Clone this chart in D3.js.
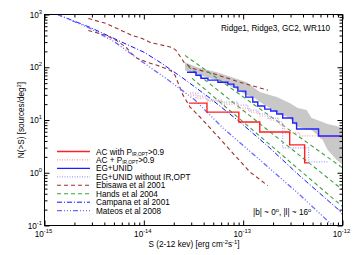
<!DOCTYPE html>
<html>
<head>
<meta charset="utf-8">
<script src="https://cdn.jsdelivr.net/npm/d3@7"></script>
<style>
body{margin:0;background:#fff;}
text{font-family:"Liberation Sans",Arial,Helvetica,sans-serif;fill:#000;}
</style>
</head>
<body>
<svg id="chart"></svg>
<script>
// tick labels (exponents of 10)
var xTickExp = [-15, -14, -13, -12];
var yTickExp = [-1, 0, 1, 2, 3];

// grey band (range of the total logN-logS)
var bandS  = [2.60e-14, 3.43e-14, 5.44e-14, 8.25e-14, 1.088e-13, 1.309e-13, 1.47e-13, 2.18e-13, 2.94e-13, 3.54e-13, 4.35e-13, 4.89e-13, 6.30e-13, 7.07e-13, 8.70e-13, 1e-12];
var bandHi = [124, 100, 80.4, 62.0, 52.1, 40.2, 33.8, 27.2, 20.9, 16.8, 15.4, 10.9, 9.17, 8.41, 7.70, 7.06];
var bandLo = [87.8, 73.8, 56.9, 40.2, 29.6, 26.0, 21.9, 14.1, 10.9, 7.37, 6.76, 6.47, 4.20, 2.72, 1.76, 1.42];

// AC with P(IR,OPT)>0.9  (step)
var acS = [2.85e-14, 4.32e-14, 9.05e-14, 1.47e-13, 2.94e-13, 4.16e-13, 4.56e-13];
var acN = [20.9, 14.1, 9.17, 5.94, 3.38, 1.54, 1.54];
// AC + P(IR,OPT)>0.9  (step)
var acpS = [2.78e-14, 3.35e-14, 4.32e-14, 6.11e-14, 8.84e-14, 1.166e-13, 1.47e-13, 1.851e-13, 2.33e-13, 2.62e-13, 3.70e-13, 5.88e-13, 1e-12];
var acpN = [29.6, 26.0, 22.8, 20.0, 16.8, 14.1, 11.9, 10.0, 8.04, 5.68, 4.99, 4.57, 4.57];
// EG+UNID  (step)
var egS = [2.72e-14, 3.35e-14, 3.76e-14, 4.42e-14, 5.57e-14, 7.02e-14, 8.06e-14, 8.84e-14, 1.063e-13, 1.25e-13, 1.403e-13, 1.65e-13, 1.895e-13, 2.18e-13, 2.50e-13, 3.15e-13, 3.45e-13, 5.74e-13, 1e-12];
var egN = [80.4, 70.6, 62.0, 56.9, 52.1, 47.8, 42.0, 35.3, 27.2, 21.9, 18.4, 16.1, 14.8, 13.0, 10.9, 8.78, 6.76, 4.99, 4.99];
// EG+UNID without IR,OPT  (step)
var egnS = [2.92e-14, 3.51e-14, 4.32e-14, 6.11e-14, 8.84e-14, 1.114e-13, 1.403e-13, 1.768e-13, 2.23e-13, 2.50e-13, 4.56e-13, 7.23e-13];
var egnN = [32.3, 28.4, 23.9, 21.9, 19.2, 15.4, 13.0, 10.9, 9.17, 2.96, 1.61, 1.61];

// Ebisawa et al 2001 (upper / lower)
var ebiHiS = [2.76e-15, 4.19e-15, 5.92e-15, 7.64e-15, 9.62e-15, 1.157e-14, 1.92e-14, 2.11e-14, 2.54e-14, 3.05e-14, 4.85e-14, 9.26e-14, 1.768e-13];
var ebiHiN = [840, 676, 499, 401, 352, 296, 238, 209, 124, 95.7, 77.0, 52.1, 36.8];
var ebiLoS = [2.76e-15, 4.19e-15, 5.28e-15, 6.65e-15, 7.46e-15, 8.57e-15, 1.08e-14, 1.36e-14, 1.84e-14, 2.06e-14, 2.48e-14, 2.92e-14, 3.67e-14, 4.85e-14, 7.35e-14, 1.166e-13, 1.768e-13];
var ebiLoN = [499, 401, 323, 238, 184, 148, 124, 109, 87.8, 70.6, 29.6, 17.6, 11.4, 6.47, 2.72, 1.04, 0.569];

// Hands et al 2004 (three lines)
var hands1S = [2.60e-14, 1e-12], hands1N = [168, 1.24];
var hands2S = [2.78e-14, 1e-12], hands2N = [104, 0.478];
var hands3S = [3.05e-14, 1e-12], hands3N = [62.0, 0.228];

// Campana et al 2001
var campS = [1.35e-15, 2.89e-15, 5.79e-15, 1.008e-14, 1.458e-14, 2.48e-14, 4.63e-14, 9.26e-14, 1.851e-13, 3.70e-13, 9.33e-13, 1e-12];
var campN = [1000, 568, 309, 192, 124, 62.0, 26.0, 9.17, 2.96, 0.878, 0.192, 0.16];
// Mateos et al 2008
var mateS = [1.35e-15, 2.89e-15, 5.16e-15, 9.19e-15, 1.715e-14, 3.27e-14, 6.25e-14, 1.47e-13, 3.70e-13, 7.75e-13, 1e-12];
var mateN = [1000, 544, 296, 135, 59.4, 23.9, 7.06, 1.76, 0.385, 0.1045, 0.068];

var W = 357, H = 255;
var svg = d3.select("#chart").attr("width", W).attr("height", H);

var x = d3.scaleLog().domain([1e-15, 1e-12]).range([44.5, 342.5]);
var y = d3.scaleLog().domain([0.1, 1000]).range([225.5, 14.5]);

svg.append("clipPath").attr("id", "clip")
  .append("rect").attr("x", 44.5).attr("y", 14.5).attr("width", 298).attr("height", 211);

var plot = svg.append("g").attr("clip-path", "url(#clip)");

function pts(sArr, nArr){ return sArr.map(function(s, i){ return [s, nArr[i]]; }); }

var lineLin = d3.line().x(function(d){ return x(d[0]); }).y(function(d){ return y(d[1]); });
var lineStep = d3.line().x(function(d){ return x(d[0]); }).y(function(d){ return y(d[1]); }).curve(d3.curveStepAfter);

// band
var area = d3.area()
  .x(function(d){ return x(d[0]); })
  .y0(function(d){ return y(d[1]); })
  .y1(function(d){ return y(d[2]); });
plot.append("path")
  .datum(bandS.map(function(s, i){ return [s, bandLo[i], bandHi[i]]; }))
  .attr("d", area).attr("fill", "#c8c8c8").attr("stroke", "none");

var styles = {
  ac:   {stroke: "#ff2020", width: 1.4, dash: null},
  acp:  {stroke: "#ff9a9a", width: 1.2, dash: "1,1.5"},
  eg:   {stroke: "#2020ff", width: 1.4, dash: null},
  egn:  {stroke: "#a0a0ff", width: 1.2, dash: "1,1.5"},
  ebi:  {stroke: "#9a3030", width: 1.1, dash: "4,3"},
  hands:{stroke: "#40a040", width: 1.1, dash: "4,3"},
  camp: {stroke: "#1010ff", width: 1.0, dash: "5,2,1,2"},
  mate: {stroke: "#6a6aff", width: 1.3, dash: "5,2,1,2,1,2,1,2"}
};

function draw(data, gen, st){
  plot.append("path").datum(data).attr("d", gen)
    .attr("fill", "none").attr("stroke", st.stroke)
    .attr("stroke-width", st.width)
    .attr("stroke-dasharray", st.dash);
}

draw(pts(ebiHiS, ebiHiN), lineLin, styles.ebi);
draw(pts(ebiLoS, ebiLoN), lineLin, styles.ebi);
draw(pts(hands1S, hands1N), lineLin, styles.hands);
draw(pts(hands2S, hands2N), lineLin, styles.hands);
draw(pts(hands3S, hands3N), lineLin, styles.hands);
draw(pts(campS, campN), lineLin, styles.camp);
draw(pts(mateS, mateN), lineLin, styles.mate);
draw(pts(egnS, egnN), lineStep, styles.egn);
draw(pts(acpS, acpN), lineStep, styles.acp);
draw(pts(egS, egN), lineStep, styles.eg);
draw(pts(acS, acN), lineStep, styles.ac);

// axes with inward ticks
var majX = xTickExp.map(function(e){ return Math.pow(10, e); });
var majY = yTickExp.map(function(e){ return Math.pow(10, e); });
var minX = [], minY = [];
for (var e = -15; e < -12; e++) for (var k = 2; k < 10; k++) minX.push(k * Math.pow(10, e));
for (var e2 = -1; e2 < 3; e2++) for (var k2 = 2; k2 < 10; k2++) minY.push(k2 * Math.pow(10, e2));

function axisG(axis, tx, ty){
  var g = svg.append("g").attr("transform", "translate(" + tx + "," + ty + ")").call(axis);
  g.select(".domain").remove();
  g.selectAll("line").attr("stroke", "#000");
  return g;
}
axisG(d3.axisBottom(x).tickValues(majX).tickSize(-5).tickFormat(""), 0, 225.5);
axisG(d3.axisBottom(x).tickValues(minX).tickSize(-3).tickFormat(""), 0, 225.5);
axisG(d3.axisTop(x).tickValues(majX).tickSize(-5).tickFormat(""), 0, 14.5);
axisG(d3.axisTop(x).tickValues(minX).tickSize(-3).tickFormat(""), 0, 14.5);
axisG(d3.axisLeft(y).tickValues(majY).tickSize(-5).tickFormat(""), 44.5, 0);
axisG(d3.axisLeft(y).tickValues(minY).tickSize(-3).tickFormat(""), 44.5, 0);
axisG(d3.axisRight(y).tickValues(majY).tickSize(-5).tickFormat(""), 342.5, 0);
axisG(d3.axisRight(y).tickValues(minY).tickSize(-3).tickFormat(""), 342.5, 0);

svg.append("rect").attr("x", 44.5).attr("y", 14.5).attr("width", 298).attr("height", 211)
  .attr("fill", "none").attr("stroke", "#000").attr("stroke-width", 1);

// tick labels
xTickExp.forEach(function(e){
  var t = svg.append("text").attr("x", x(Math.pow(10, e)) - 1).attr("y", 237)
    .attr("text-anchor", "middle").attr("font-size", 8.2);
  t.append("tspan").text("10");
  t.append("tspan").attr("dy", -4).attr("font-size", 5.8).text(e);
});
yTickExp.forEach(function(e){
  var t = svg.append("text").attr("x", 42).attr("y", y(Math.pow(10, e)) + 3)
    .attr("text-anchor", "end").attr("font-size", 8.2);
  t.append("tspan").text("10");
  t.append("tspan").attr("dy", -4).attr("font-size", 5.8).text(e);
});

// axis titles
var xl = svg.append("text").attr("x", 194).attr("y", 246.5).attr("text-anchor", "middle").attr("font-size", 8.2);
xl.append("tspan").text("S (2-12 kev) [erg cm");
xl.append("tspan").attr("dy", -3).attr("font-size", 5.8).text("-2");
xl.append("tspan").attr("dy", 3).text("s");
xl.append("tspan").attr("dy", -3).attr("font-size", 5.8).text("-1");
xl.append("tspan").attr("dy", 3).text("]");

var yl = svg.append("text").attr("transform", "translate(24,120) rotate(-90)")
  .attr("text-anchor", "middle").attr("font-size", 8.2);
yl.append("tspan").text("N(>S) [sources/deg");
yl.append("tspan").attr("dy", -3).attr("font-size", 5.8).text("2");
yl.append("tspan").attr("dy", 3).text("]");

// annotations
svg.append("text").attr("x", 330).attr("y", 31).attr("text-anchor", "end")
  .attr("font-size", 8.2).text("Ridge1, Ridge3, GC2, WR110");
var an = svg.append("text").attr("x", 253).attr("y", 215).attr("font-size", 8.2);
an.append("tspan").text("|b| ~ 0");
an.append("tspan").attr("dy", -3).attr("font-size", 5.8).text("o");
an.append("tspan").attr("dy", 3).text(", |l| ~ 16");
an.append("tspan").attr("dy", -3).attr("font-size", 5.8).text("o");

// legend
var legendNames = ["AC with P", "AC + P", "EG+UNID", "EG+UNID without IR,OPT", "Ebisawa et al 2001", "Hands et al 2004", "Campana et al 2001", "Mateos et al 2008"];
var legendStyle = [styles.ac, styles.acp, styles.eg, styles.egn, styles.ebi, styles.hands, styles.camp, styles.mate];
var legendSub = [true, true, false, false, false, false, false, false];
legendNames.forEach(function(name, i){
  var ly = 151.5 + i * 8.45;
  var st = legendStyle[i];
  svg.append("line").attr("x1", 57).attr("x2", 90).attr("y1", ly).attr("y2", ly)
    .attr("stroke", st.stroke).attr("stroke-width", st.width).attr("stroke-dasharray", st.dash);
  var t = svg.append("text").attr("x", 96).attr("y", ly + 3).attr("font-size", 8.2);
  t.append("tspan").text(name);
  if (legendSub[i]) {
    t.append("tspan").attr("dy", 1.5).attr("font-size", 4.8).text("IR,OPT");
    t.append("tspan").attr("dy", -1.5).text(">0.9");
  }
});
</script>
</body>
</html>
